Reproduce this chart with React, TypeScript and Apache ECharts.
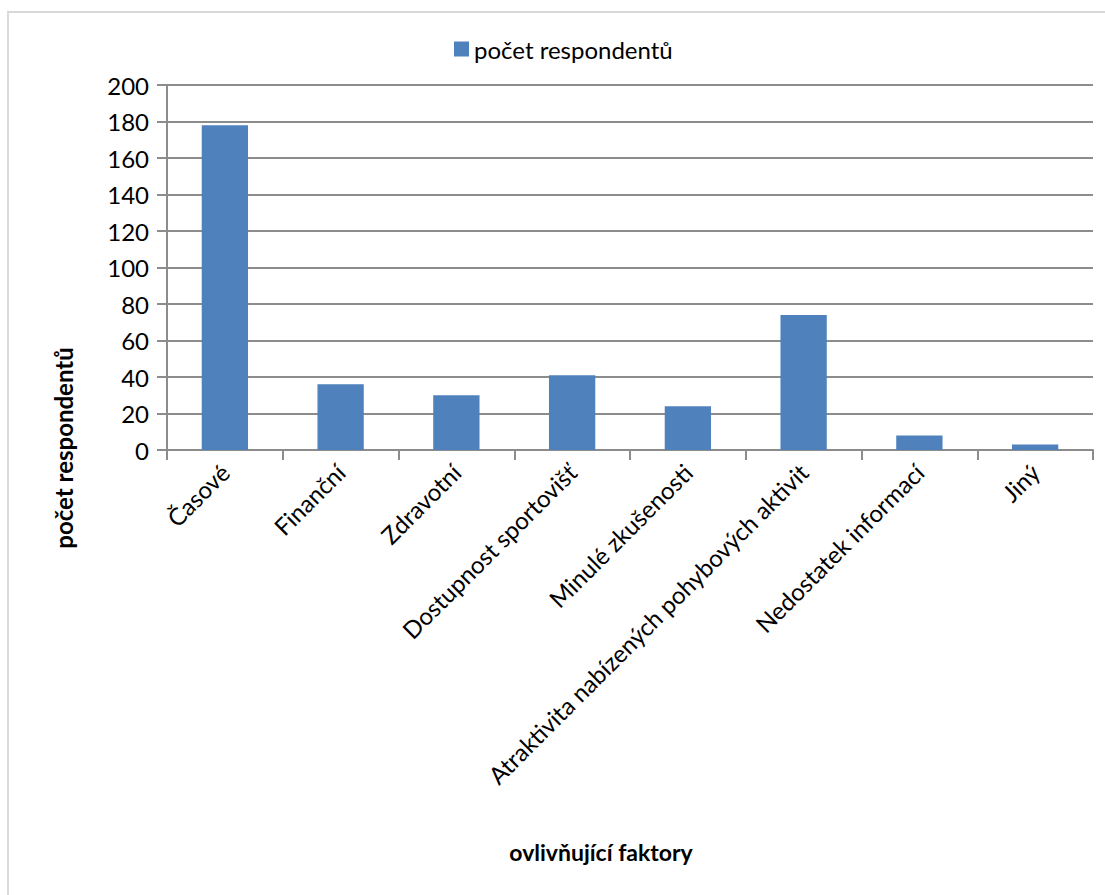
import React, { useEffect, useRef } from "react";
import * as echarts from "echarts";

const categories = [
  "Časové",
  "Finanční",
  "Zdravotní",
  "Dostupnost sportovišť",
  "Minulé zkušenosti",
  "Atraktivita nabízených pohybových aktivit",
  "Nedostatek informací",
  "Jiný",
];
const values = [178, 36, 30, 41, 24, 74, 8, 3];
const seriesName = "počet respondentů";
const yTitle = "počet respondentů";
const xTitle = "ovlivňující faktory";

const FONT = "Lato, 'Open Sans', sans-serif";

export default function App() {
  const ref = useRef<HTMLDivElement>(null);
  useEffect(() => {
    const chart = echarts.init(ref.current!, null, { renderer: "svg" });
    chart.setOption({
      animation: false,
      backgroundColor: "#ffffff",
      textStyle: { fontFamily: FONT },
      graphic: [
        {
          type: "rect",
          shape: { x: 8, y: 12, width: 1200, height: 1000 },
          style: { fill: "none", stroke: "#d9d9d9", lineWidth: 2 },
          silent: true,
        },
        {
          type: "text",
          x: 63,
          y: 448,
          rotation: Math.PI / 2,
          style: {
            text: yTitle,
            font: `bold 24px ${FONT}`,
            fill: "#000",
            align: "center",
            verticalAlign: "middle",
          },
        },
        {
          type: "text",
          x: 601,
          y: 852,
          style: {
            text: xTitle,
            font: `bold 23px ${FONT}`,
            fill: "#000",
            align: "center",
            verticalAlign: "middle",
          },
        },
      ],
      legend: {
        data: [seriesName],
        top: 32,
        left: 449,
        itemWidth: 15,
        itemHeight: 15,
        icon: "rect",
        itemGap: 8,
        textStyle: { fontSize: 24, color: "#000", fontFamily: FONT },
      },
      grid: { left: 167, right: 12, top: 85, bottom: 445, containLabel: false },
      xAxis: {
        type: "category",
        data: categories,
        axisLine: { lineStyle: { color: "#8c8c8c", width: 2 } },
        axisTick: { show: true, length: 10, lineStyle: { color: "#8c8c8c", width: 2 } },
        axisLabel: {
          rotate: 45,
          interval: 0,
          fontSize: 24,
          color: "#000",
          fontFamily: FONT,
          margin: 18,
        },
      },
      yAxis: {
        type: "value",
        min: 0,
        max: 200,
        interval: 20,
        axisLine: { show: true, lineStyle: { color: "#8c8c8c", width: 2 } },
        axisTick: { show: true, length: 10, lineStyle: { color: "#8c8c8c", width: 2 } },
        splitLine: { lineStyle: { color: "#8c8c8c", width: 2 } },
        axisLabel: { fontSize: 24, color: "#000", fontFamily: FONT, margin: 18 },
      },
      series: [
        {
          name: seriesName,
          type: "bar",
          data: values,
          barCategoryGap: "60%",
          itemStyle: { color: "#4f81bd" },
        },
      ],
    });
    return () => chart.dispose();
  }, []);
  return (
    <div
      ref={ref}
      style={{ position: "fixed", left: 0, top: 0, width: 1105, height: 895 }}
    />
  );
}
